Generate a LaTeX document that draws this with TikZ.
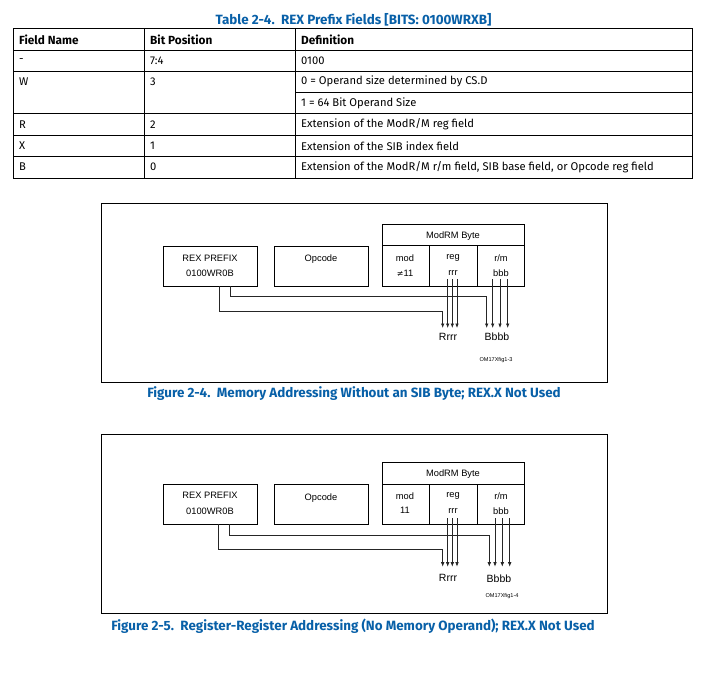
\documentclass[tikz,border=0pt]{standalone}
\usepackage{fontspec}
\setmainfont{Fira Sans}
\newfontfamily\diafont{Liberation Sans}
\newfontfamily\symfont{DejaVu Sans}
\usetikzlibrary{arrows.meta}
\definecolor{capblue}{RGB}{8,96,168}
\begin{document}
\begin{tikzpicture}[x=1pt,y=-1pt,
  tline/.style={line width=0.9pt,black},
  cell/.style={anchor=west,inner sep=0pt,font=\fontsize{11.2}{13}\selectfont},
  hcell/.style={cell,font=\fontsize{11.8}{13}\selectfont\bfseries},
  capt/.style={inner sep=0pt,text=capblue,font=\fontsize{13.4}{15}\selectfont\bfseries},
  frame/.style={draw,line width=0.8pt},
  box/.style={draw,line width=0.8pt},
  dtext/.style={inner sep=0pt,font=\diafont\fontsize{9.3}{11}\selectfont},
  btext/.style={inner sep=0pt,font=\diafont\fontsize{10.5}{12}\selectfont},
  tiny/.style={inner sep=0pt,font=\diafont\fontsize{5.6}{7}\selectfont},
  wire/.style={line width=0.7pt,black!85},
  arr/.style={wire,-{Latex[length=4.5pt,width=3.6pt]}}
]
\useasboundingbox[fill=white] (0,0) rectangle (712,677);

% ---------------- Table ----------------
\node[capt] (ttitle) at (353.5,19.5) {Table 2-4.\ \ REX Prefix Fields [BITS: 0100WRXB]};
\draw[tline] (13,28.5) rectangle (692.5,178);
\foreach \yy in {50,71,113.5,135,156.5} \draw[tline] (13,\yy) -- (692.5,\yy);
\draw[tline] (295.5,92) -- (692.5,92);
\draw[tline] (144.5,28.5) -- (144.5,178);
\draw[tline] (295.5,28.5) -- (295.5,178);

\node[hcell] (h1) at (19,40) {Field Name};
\node[hcell] (h2) at (150,40) {Bit Position};
\node[hcell] (h3) at (301,40) {Definition};
\node[cell] (r1a) at (19,60.5) {-};
\node[cell] (r1b) at (150,60.5) {7:4};
\node[cell] (r1c) at (301,60.5) {0100};
\node[cell] (r2a) at (19,81.5) {W};
\node[cell] (r2b) at (150,81.5) {3};
\node[cell] (r2c) at (301,81.5) {0 = Operand size determined by CS.D};
\node[cell] (r3c) at (301,103) {1 = 64 Bit Operand Size};
\node[cell] (r4a) at (19,124.5) {R};
\node[cell] (r4b) at (150,124.5) {2};
\node[cell] (r4c) at (301,124.5) {Extension of the ModR/M reg field};
\node[cell] (r5a) at (19,146) {X};
\node[cell] (r5b) at (150,146) {1};
\node[cell] (r5c) at (301,146) {Extension of the SIB index field};
\node[cell] (r6a) at (19,167) {B};
\node[cell] (r6b) at (150,167) {0};
\node[cell] (r6c) at (301,167) {Extension of the ModR/M r/m field, SIB base field, or Opcode reg field};

% ---------------- Figure 2-4 ----------------
\draw[frame] (101,203) rectangle (607,382);
\node[box,minimum width=94pt,minimum height=40pt,inner sep=0pt] (rexA) at (210,266) {};
\node[dtext] (rexAt) at (210,258) {REX PREFIX};
\node[dtext] (rexAb) at (210,273) {0100WR0B};
\node[box,minimum width=94pt,minimum height=40pt,inner sep=0pt] (opA) at (321,266) {};
\node[dtext] (opAt) at (321,259) {Opcode};
\node[box,minimum width=142pt,minimum height=21pt,inner sep=0pt] (mrA) at (453,234.5) {};
\node[dtext] (mrAt) at (453,236) {ModRM Byte};
\node[box,minimum width=47pt,minimum height=41pt,inner sep=0pt] (modA) at (405.5,265.5) {};
\node[box,minimum width=48pt,minimum height=41pt,inner sep=0pt] (regA) at (453,265.5) {};
\node[box,minimum width=47pt,minimum height=41pt,inner sep=0pt] (rmA) at (500.5,265.5) {};
\node[dtext] (modAt) at (405,258) {mod};
\node[dtext] (modAb) at (405,273) {{\symfont\fontsize{8}{9}\selectfont ≠}11};
\node[dtext] (regAt) at (453,258) {reg};
\node[dtext] (regAb) at (453,273) {rrr};
\node[dtext] (rmAt) at (501,258) {r/m};
\node[dtext] (rmAb) at (501,273) {bbb};
\node[btext] (RA) at (448,337) {Rrrr};
\node[btext] (BA) at (497,337) {Bbbb};
\node[tiny] (omA) at (496,360) {OM17Xfig1-3};
\node[capt] (capA) at (354,393.3) {Figure 2-4.\ \ Memory Addressing Without an SIB Byte; REX.X Not Used};

\foreach \xx/\nn in {447.7/a,452.3/b,457/c} {
  \coordinate (rgsA\nn) at (\xx,279);
  \coordinate (rgeA\nn) at (\xx,328);
  \draw[arr] (rgsA\nn) -- (rgeA\nn);
}
\foreach \xx/\nn in {492.7/a,500/b,507.7/c} {
  \coordinate (rmsA\nn) at (\xx,279);
  \coordinate (rmeA\nn) at (\xx,328);
  \draw[arr] (rmsA\nn) -- (rmeA\nn);
}
\coordinate (RsA) at (219,286);
\coordinate (ReA) at (442.7,328);
\coordinate (BsA) at (230.7,286);
\coordinate (BeA) at (486.7,328);
\draw[arr] (RsA) |- (ReA |- 0,311) -- (ReA);
\draw[arr] (BsA) |- (BeA |- 0,296.7) -- (BeA);

% ---------------- Figure 2-5 ----------------
\draw[frame] (101,434.5) rectangle (607,613);
\node[box,minimum width=94pt,minimum height=40pt,inner sep=0pt] (rexB) at (210,504.3) {};
\node[dtext] (rexBt) at (210,495.7) {REX PREFIX};
\node[dtext] (rexBb) at (210,511) {0100WR0B};
\node[box,minimum width=94pt,minimum height=40pt,inner sep=0pt] (opB) at (321,504.3) {};
\node[dtext] (opBt) at (321,497.7) {Opcode};
\node[box,minimum width=142pt,minimum height=21.7pt,inner sep=0pt] (mrB) at (453,473.15) {};
\node[dtext] (mrBt) at (453,474.3) {ModRM Byte};
\node[box,minimum width=47pt,minimum height=40.3pt,inner sep=0pt] (modB) at (405.5,504.15) {};
\node[box,minimum width=48pt,minimum height=40.3pt,inner sep=0pt] (regB) at (453,504.15) {};
\node[box,minimum width=47pt,minimum height=40.3pt,inner sep=0pt] (rmB) at (500.5,504.15) {};
\node[dtext] (modBt) at (405,495.7) {mod};
\node[dtext] (modBb) at (405,510.7) {11};
\node[dtext] (regBt) at (453,495.7) {reg};
\node[dtext] (regBb) at (453,510.7) {rrr};
\node[dtext] (rmBt) at (501,495.7) {r/m};
\node[dtext] (rmBb) at (501,510.7) {bbb};
\node[btext] (RB) at (448,578.3) {Rrrr};
\node[btext] (BB) at (499,578.3) {Bbbb};
\node[tiny] (omB) at (502,595.7) {OM17Xfig1-4};
\node[capt] (capB) at (353,626.7) {Figure 2-5.\ \ Register-Register Addressing (No Memory Operand); REX.X Not Used};

\foreach \xx/\nn in {447.7/a,452.3/b,457/c} {
  \coordinate (rgsB\nn) at (\xx,518.3);
  \coordinate (rgeB\nn) at (\xx,566.7);
  \draw[arr] (rgsB\nn) -- (rgeB\nn);
}
\foreach \xx/\nn in {495/a,502.3/b,509.7/c} {
  \coordinate (rmsB\nn) at (\xx,518.3);
  \coordinate (rmeB\nn) at (\xx,566.7);
  \draw[arr] (rmsB\nn) -- (rmeB\nn);
}
\coordinate (RsB) at (218.3,524.3);
\coordinate (ReB) at (442.7,566.7);
\coordinate (BsB) at (229,524.3);
\coordinate (BeB) at (489.3,566.7);
\draw[arr] (RsB) |- (ReB |- 0,549) -- (ReB);
\draw[arr] (BsB) |- (BeB |- 0,535.7) -- (BeB);
\end{tikzpicture}
\end{document}
